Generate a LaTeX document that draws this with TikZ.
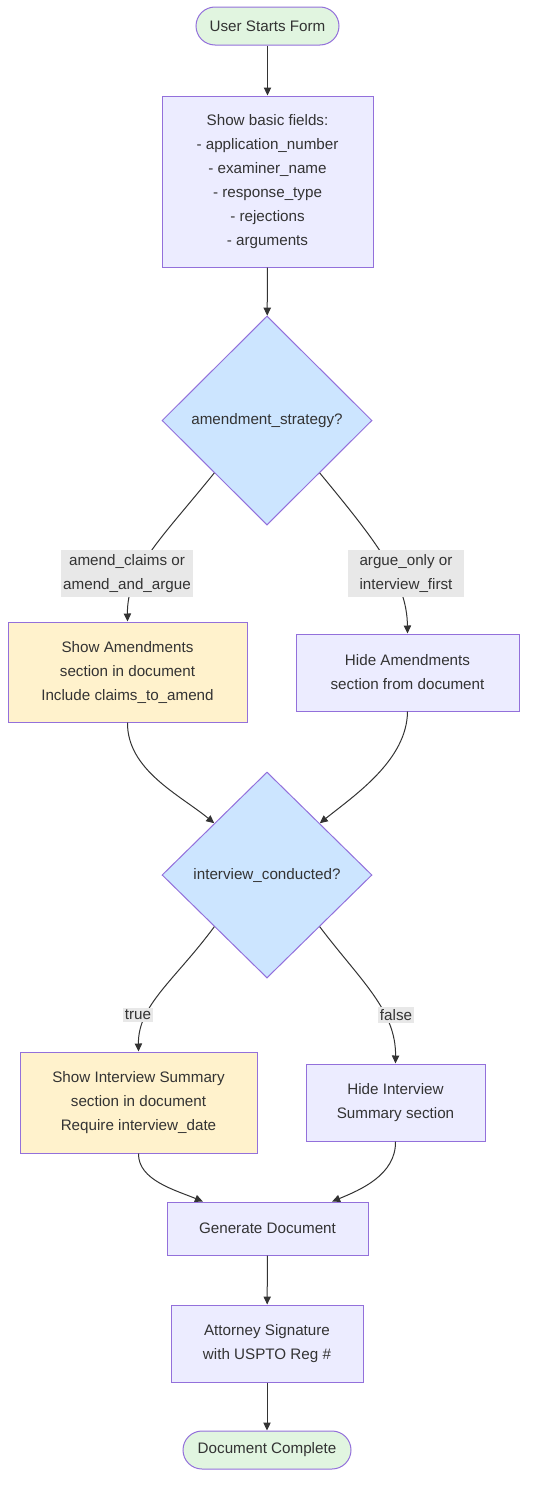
\documentclass[tikz,border=0pt]{standalone}
\usepackage{fontspec}
\setmainfont{Liberation Sans}
\usetikzlibrary{shapes.geometric,arrows.meta,calc}
\definecolor{edgec}{HTML}{333333}
\definecolor{strokec}{HTML}{9370DB}
\definecolor{boxfill}{HTML}{ECECFF}
\definecolor{greenfill}{HTML}{E1F5E0}
\definecolor{yellowfill}{HTML}{FFF2CC}
\definecolor{bluefill}{HTML}{CCE5FF}
\definecolor{lblfill}{HTML}{E8E8E8}
\tikzset{
  base/.style={draw=strokec, line width=0.75pt, text=edgec, align=center, inner sep=2pt,
    font=\fontsize{11.4}{18}\selectfont},
  terminal/.style={base, fill=greenfill, rounded corners=14.25pt, minimum height=28.5pt},
  procbox/.style={base, fill=boxfill},
  hlbox/.style={base, fill=yellowfill},
  decision/.style={base, diamond, fill=bluefill, inner sep=0pt},
  lbl/.style={fill=lblfill, text=edgec, align=center, inner sep=1.5pt,
    font=\fontsize{11.4}{18}\selectfont},
  conn/.style={draw=edgec, line width=0.75pt, -{Triangle[length=6pt,width=5.5pt]}},
}
\begin{document}
\begin{tikzpicture}[x=0.75pt,y=-0.75pt]
\useasboundingbox (0,0) rectangle (535,1499);
\node[terminal, minimum width=107.25pt] (start) at (267.5,26) {User Starts Form};
\node[procbox, minimum width=158.25pt, minimum height=128.25pt] (basic) at (267.5,181.5)
  {Show basic fields:\\- application\_number\\- examiner\_name\\- response\_type\\- rejections\\- arguments};
\node[decision, minimum width=157.5pt, minimum height=156.75pt] (d1) at (267,420.5) {amendment\_strategy?};
\node[hlbox, minimum width=179.25pt, minimum height=75pt] (amend) at (127.5,672)
  {Show Amendments\\section in document\\Include claims\_to\_amend};
\node[procbox, minimum width=167.25pt, minimum height=57.75pt] (hide) at (407.5,672.5)
  {Hide Amendments\\section from document};
\node[decision, minimum width=157.5pt, minimum height=154.5pt] (d2) at (267,875) {interview\_conducted?};
\node[hlbox, minimum width=177.75pt, minimum height=75.75pt] (inter) at (138.5,1102.5)
  {Show Interview Summary\\section in document\\Require interview\_date};
\node[procbox, minimum width=134.25pt, minimum height=57.75pt] (hideint) at (395.5,1102.5)
  {Hide Interview\\Summary section};
\node[procbox, minimum width=150.75pt, minimum height=39.75pt] (gen) at (267.5,1228.5) {Generate Document};
\node[procbox, minimum width=144pt, minimum height=57.75pt] (att) at (267,1343.5)
  {Attorney Signature\\with USPTO Reg \#};
\node[terminal, minimum width=126pt] (end) at (267,1450) {Document Complete};

\draw[conn] (start) -- (basic);
\draw[conn] (basic) -- (d1);
\draw[conn] (d1.south west) .. controls (160,540) and (127,570) .. (amend.north);
\draw[conn] (d1.south east) .. controls (375,540) and (407,580) .. (hide.north);
\draw[conn] (amend.south) .. controls (127,770) and (180,795) .. (d2.north west);
\draw[conn] (hide.south) .. controls (407,760) and (355,795) .. (d2.north east);
\draw[conn] (d2.south west) .. controls (175,980) and (138,1005) .. (inter.north);
\draw[conn] (d2.south east) .. controls (360,980) and (396,1010) .. (hideint.north);
\draw[conn] (inter.south) .. controls (138,1180) and (175,1190) .. ($(gen.north west)!0.18!(gen.north east)$);
\draw[conn] (hideint.south) .. controls (396,1175) and (360,1190) .. ($(gen.north west)!0.82!(gen.north east)$);
\draw[conn] (gen) -- (att);
\draw[conn] (att) -- (end);

\node[lbl, minimum width=94.5pt, minimum height=35.25pt] (l1) at (127,573.5) {amend\_claims or\\amend\_and\_argue};
\node[lbl, minimum width=87pt, minimum height=35.25pt] (l2) at (406,573.5) {argue\_only or\\interview\_first};
\node[lbl] (l3) at (138,1015) {true};
\node[lbl] (l4) at (396,1015) {false};
\end{tikzpicture}
\end{document}
